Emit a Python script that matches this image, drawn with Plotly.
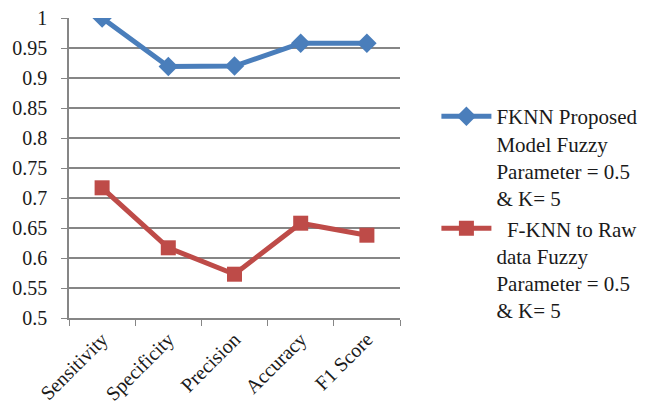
import plotly.graph_objects as go

categories = ["Sensitivity", "Specificity", "Precision", "Accuracy", "F1 Score"]
fknn_proposed = [1.0, 0.919, 0.920, 0.958, 0.958]
fknn_raw = [0.717, 0.617, 0.573, 0.658, 0.638]
y_ticks = [0.5, 0.55, 0.6, 0.65, 0.7, 0.75, 0.8, 0.85, 0.9, 0.95, 1.0]
y_tick_text = ["0.5", "0.55", "0.6", "0.65", "0.7", "0.75", "0.8", "0.85", "0.9", "0.95", "1"]
name_proposed = "FKNN Proposed<br>Model Fuzzy<br>Parameter = 0.5<br>& K= 5"
name_raw = "  F-KNN to Raw<br>data Fuzzy<br>Parameter = 0.5<br>& K= 5"

fig = go.Figure()
fig.add_trace(go.Scatter(
    x=categories, y=fknn_proposed, name=name_proposed, mode="lines+markers",
    line=dict(color="#4A7EBB", width=5),
    marker=dict(symbol="diamond", size=15, color="#4A7EBB"),
))
fig.add_trace(go.Scatter(
    x=categories, y=fknn_raw, name=name_raw, mode="lines+markers",
    line=dict(color="#BE4B48", width=5),
    marker=dict(symbol="square", size=15, color="#BE4B48"),
))

fam = "Liberation Serif, Times New Roman, serif"
tfont = dict(family=fam, size=20, color="#1a1a1a")
fig.update_layout(
    width=656, height=413,
    margin=dict(l=61, r=264, t=10, b=103),
    paper_bgcolor="white", plot_bgcolor="white",
    font=tfont,
    showlegend=True,
    legend=dict(x=1.11, y=0.74, xanchor="left", yanchor="top",
                font=dict(family=fam, size=21, color="#1a1a1a"),
                tracegroupgap=16, valign="top", itemwidth=50),
    xaxis=dict(
        type="category", tickangle=-45, tickson="boundaries",
        ticks="outside", ticklen=6, tickcolor="#868686",
        showline=True, linecolor="#868686", linewidth=1.5,
        showgrid=False, range=[-0.5, 4.5], automargin=False,
        tickfont=tfont, ticklabeloverflow="allow",
    ),
    yaxis=dict(
        range=[0.5, 1.0], tickvals=y_ticks, ticktext=y_tick_text,
        ticks="outside", ticklen=6, tickcolor="#868686",
        showline=True, linecolor="#868686", linewidth=1.5,
        showgrid=True, gridcolor="#868686", gridwidth=1.5,
        zeroline=False, automargin=False, tickfont=tfont,
        ticklabelstandoff=10, ticklabeloverflow="allow",
    ),
)
fig.write_html("out.html")
